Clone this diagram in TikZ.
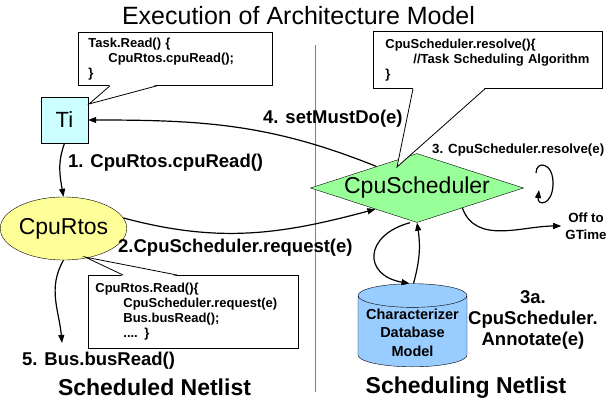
\documentclass[tikz,border=0pt]{standalone}
\usepackage{fontspec}
\setmainfont{Liberation Sans}
\usetikzlibrary{arrows.meta}
\usetikzlibrary{calc}
\usetikzlibrary{shapes.geometric}
\definecolor{tiblue}{HTML}{CCFFFF}
\definecolor{rtosyellow}{HTML}{FFFF99}
\definecolor{schedgreen}{HTML}{99FF99}
\definecolor{dbblue}{HTML}{99CCFF}

\begin{document}
\begin{tikzpicture}[x=1pt, y=-1pt,
        arr/.style = {black, line width=1.2pt, -{Triangle[length=8pt, width=6pt]}},
        codebox/.style = {draw, fill=white, line width=0.8pt, anchor=north west, align=left,
            font=\bfseries\fontsize{13}{15}\selectfont},
        lbl/.style = {inner sep=0pt, font=\bfseries\fontsize{18.5}{21}\selectfont},
        smalllbl/.style = {inner sep=0pt, align=center, font=\bfseries\fontsize{13.3}{17}\selectfont}]
            \useasboundingbox (0,0) rectangle (612,401);
            \node[inner sep=0pt, font=\fontsize{25}{30}\selectfont] (title) at (298.5,16) {Execution of Architecture Model};
            \coordinate (divtop) at (315,45);
            \coordinate (divbot) at (315,392);
            \draw[gray, line width=1pt] (divtop) -- (divbot);

            \node[draw, thin, fill=tiblue, minimum width=47pt, minimum height=46pt, font=\fontsize{22}{26}\selectfont] (ti) at (64.5,120) {Ti};
            \node[ellipse, draw, thin, fill=rtosyellow, inner sep=0pt, minimum width=117pt, minimum height=63pt, font=\fontsize{23}{27}\selectfont] (rtos) at (63.5,228.5) {CpuRtos};
            \node[diamond, draw, thin, fill=schedgreen, aspect=3.1, inner sep=0pt, minimum width=213pt, minimum height=69pt, font=\fontsize{23}{27}\selectfont] (sched) at (417,188) {CpuScheduler};
            \node[cylinder, shape border rotate=90, draw, thin, fill=dbblue, aspect=0.25, inner sep=1pt, minimum width=109pt, minimum height=80pt, anchor=south, align=center, font=\bfseries\fontsize{14.5}{18.5}\selectfont] (db) at (412.5,367) {Characterizer\\Database\\Model};

            \node[codebox, text width=174pt, inner xsep=10pt, minimum height=53pt] (taskcode) at (78,32) {Task.Read() \{\\\hspace*{20pt}CpuRtos.cpuRead();\\\}};
            \coordinate (taskptr) at (89,104);
            \fill[white] ($(taskcode.south west)+(32,-1)$) -- (taskptr) -- ($(taskcode.south west)+(79,-1)$) -- cycle;
            \draw[line width=0.8pt] ($(taskcode.south west)+(32,0)$) -- (taskptr) -- ($(taskcode.south west)+(79,0)$);

            \node[codebox, text width=205pt, inner xsep=12pt, minimum height=57pt] (schedcode) at (373,31) {CpuScheduler.resolve()\{\\\hspace*{28pt}//Task Scheduling Algorithm\\\}};
            \coordinate (schedptr) at (397,167);
            \fill[white] ($(schedcode.south west)+(40,-1)$) -- (schedptr) -- ($(schedcode.south west)+(112,-1)$) -- cycle;
            \draw[line width=0.8pt] ($(schedcode.south west)+(40,0)$) -- (schedptr) -- ($(schedcode.south west)+(112,0)$);

            \node[codebox, text width=196pt, inner xsep=7pt, minimum height=73pt] (rtoscode) at (88,275) {CpuRtos.Read()\{\\\hspace*{28pt}CpuScheduler.request(e)\\\hspace*{28pt}Bus.busRead();\\\hspace*{28pt}.... \}};
            \coordinate (rtosptr) at (85,257);
            \fill[white] ($(rtoscode.north west)+(35,1)$) -- (rtosptr) -- ($(rtoscode.north west)+(89,1)$) -- cycle;
            \draw[line width=0.8pt] ($(rtoscode.north west)+(35,0)$) -- (rtosptr) -- ($(rtoscode.north west)+(89,0)$);

            \draw[arr] (ti.south) to[out=250, in=100] (rtos.north);
            \draw[arr] (rtos.10) to[out=-15, in=195] ($(sched.west)!0.61!(sched.south)$);
            \draw[arr] ($(sched.west)!0.62!(sched.north)$) to[out=158, in=0] (ti.east);
            \coordinate (loopa) at (536,173);
            \coordinate (loopb) at (539,190);
            \draw[arr] (loopa) .. controls (536,160) and (554,162) .. (553,185) .. controls (552,206) and (537,206) .. (loopb);
            \node[smalllbl, inner sep=4pt] (offgt) at (586,226) {Off to\\GTime};
            \draw[arr] ($(sched.east)!0.575!(sched.south)$) to[out=-70, in=180] (offgt.west);
            \draw[arr] ($(sched.south)+(-7,0)$) to[out=195, in=170, looseness=2] ($(db.north)+(-3,0)$);
            \draw[arr] ($(db.north)+(1,0)$) to[bend right=12] (sched.south);
            \coordinate (busend) at (62,343);
            \draw[arr] (rtos.south) to[out=240, in=95] (busend);

            \node[lbl, anchor=west] (step1) at (68,163) {1. CpuRtos.cpuRead()};
            \node[lbl, anchor=west] (step2) at (118,248) {2.CpuScheduler.request(e)};
            \node[smalllbl, anchor=west] (step3) at (432,150) {3. CpuScheduler.resolve(e)};
            \node[lbl, anchor=west] (step4) at (263,119) {4. setMustDo(e)};
            \node[lbl, anchor=west] (step5) at (22,361) {5. Bus.busRead()};
            \node[lbl, align=center] (step3a) at (533,320) {3a.\\CpuScheduler.\\Annotate(e)};

            \node[inner sep=0pt, font=\bfseries\fontsize{23}{27}\selectfont] (leftcap) at (154.5,387) {Scheduled Netlist};
            \node[inner sep=0pt, font=\bfseries\fontsize{23}{27}\selectfont] (rightcap) at (466,388) {Scheduling Netlist};
        \end{tikzpicture}
\end{document}
